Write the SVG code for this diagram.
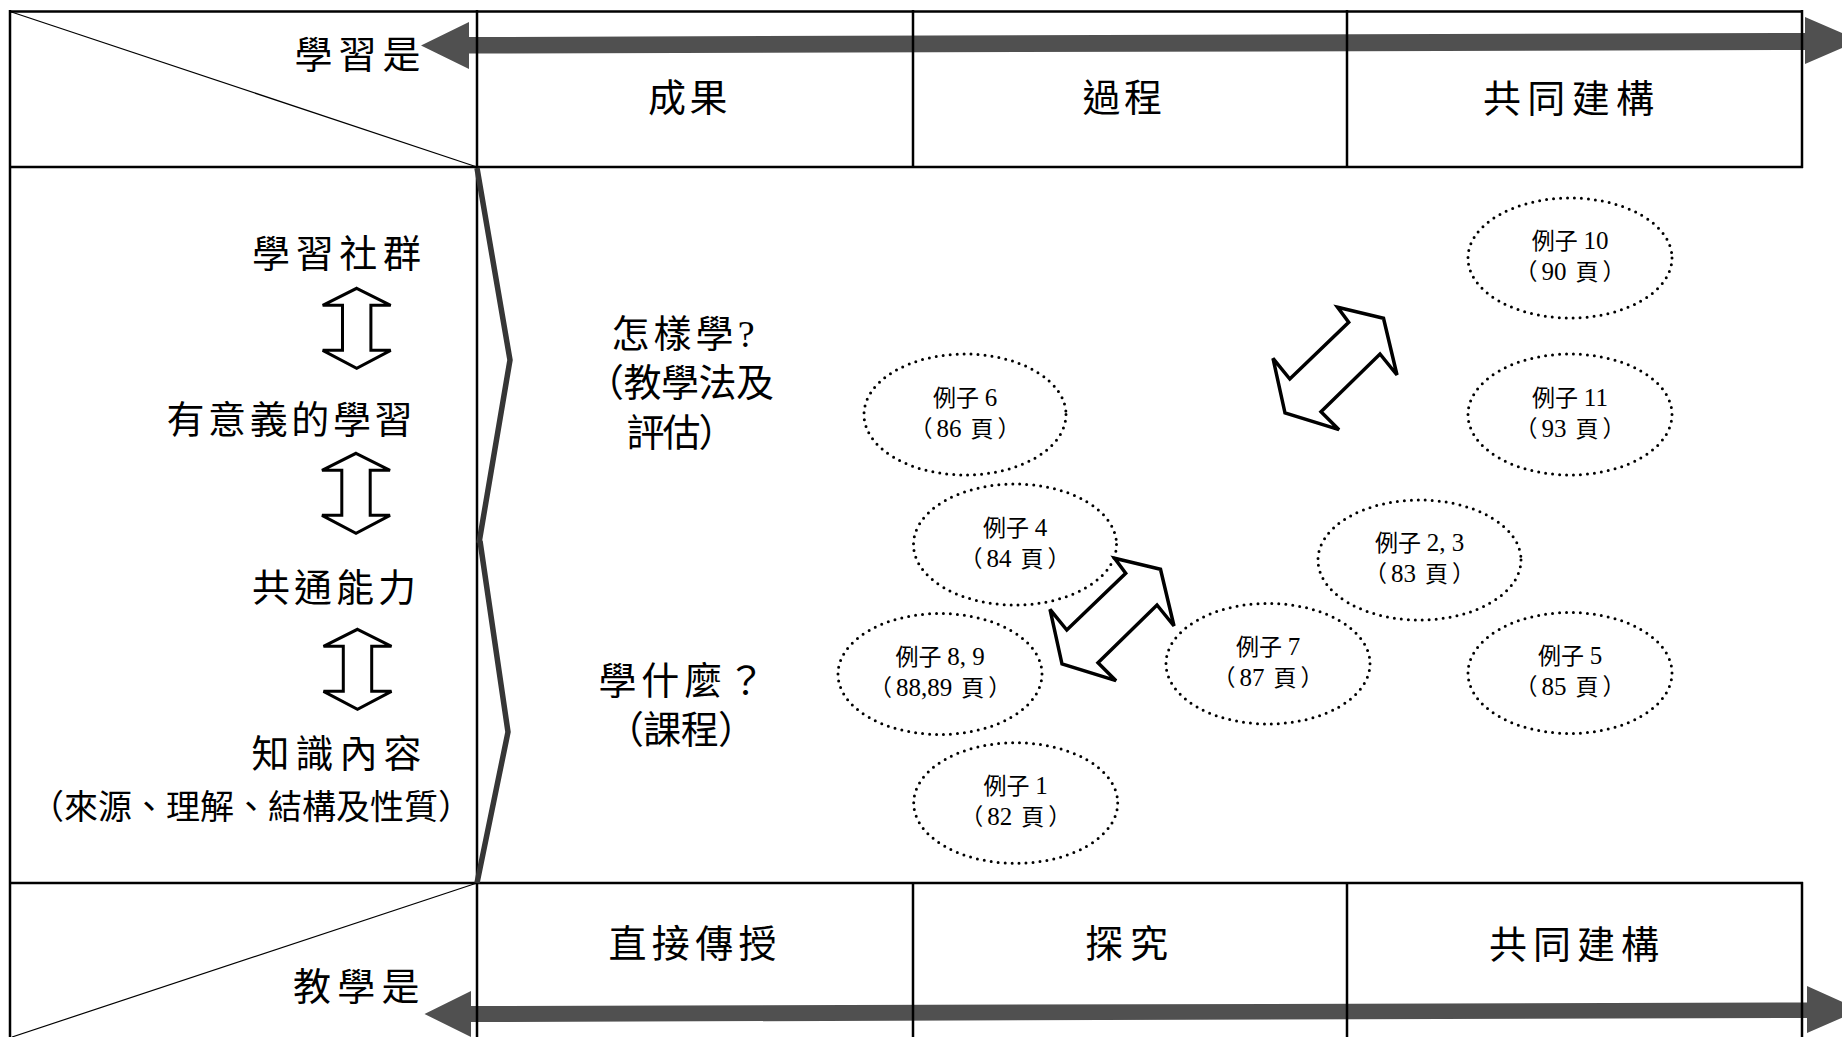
<svg xmlns="http://www.w3.org/2000/svg" xmlns:xlink="http://www.w3.org/1999/xlink" width="1842" height="1037" viewBox="0 0 1842 1037">
<style>
.t { font-family: "Liberation Serif", "Noto Sans CJK TC", serif; fill: #000; }
.big { font-size: 38px; }
.mid { font-size: 34px; }
.sm { font-size: 23px; }
.n { font-size: 25px; }
.grid { stroke: #000; stroke-width: 2.5; fill: none; }
.diag { stroke: #000; stroke-width: 1.2; fill: none; }
.chev { fill: none; stroke: #363636; stroke-width: 5.5; stroke-linejoin: miter; }
.axis { fill: #505050; }
.dbl { fill: #fff; stroke: #000; stroke-width: 3.5; stroke-linejoin: miter; }
.vdbl { fill: #fff; stroke: #000; stroke-width: 3; stroke-linejoin: miter; }
.ell { fill: none; stroke: #000; stroke-width: 3; stroke-dasharray: 0 7; stroke-linecap: round; }
</style>
<defs>
  <path id="vArrow" d="M0,0 L34,17 L14.2,17 L14.2,62 L34,62 L0,80 L-34,62 L-14.2,62 L-14.2,17 L-34,17 Z"/>
  <path id="dArrow" d="M1114.6,558.3 L1160.5,569.3 L1174,626 L1157,605 L1098,662.7 L1116,680.7 L1062,664 L1050,609.3 L1066.8,630 L1125.7,573.3 Z"/>
</defs>
<rect width="1842" height="1037" fill="#fff"/>

<g id="connectors">
  <polygon id="axis-learning" class="axis" points="421,45.5 469,22 469,37 1805,33 1805,17 1859,40.5 1805,64 1805,50 469,53.5 469,69"/>
  <polygon id="axis-teaching" class="axis" points="424.5,1014 471,991 471,1006 1807,1002.5 1807,986 1860,1010 1807,1033 1807,1018 471,1022 471,1037"/>
  <use id="v-arrow-1" xlink:href="#vArrow" href="#vArrow" class="vdbl" transform="translate(356.7,288.3)"/>
  <use id="v-arrow-2" xlink:href="#vArrow" href="#vArrow" class="vdbl" transform="translate(356,453.3)"/>
  <use id="v-arrow-3" xlink:href="#vArrow" href="#vArrow" class="vdbl" transform="translate(357.5,629.3)"/>
  <use id="d-arrow-low" xlink:href="#dArrow" href="#dArrow" class="dbl"/>
  <use id="d-arrow-high" xlink:href="#dArrow" href="#dArrow" class="dbl" transform="translate(223,-251)"/>
</g>

<g id="table">
  <line class="grid" x1="10" y1="11.5" x2="1802" y2="11.5"/>
  <line class="grid" x1="10" y1="10" x2="10" y2="1037"/>
  <line class="grid" x1="1802" y1="10" x2="1802" y2="168"/>
  <line class="grid" x1="1802" y1="882" x2="1802" y2="1037"/>
  <line class="grid" x1="10" y1="167" x2="1803" y2="167"/>
  <line class="grid" x1="10" y1="883" x2="1803" y2="883"/>
  <line class="grid" x1="477" y1="10" x2="477" y2="1037"/>
  <line class="grid" x1="913" y1="10" x2="913" y2="168"/>
  <line class="grid" x1="913" y1="882" x2="913" y2="1037"/>
  <line class="grid" x1="1347" y1="10" x2="1347" y2="168"/>
  <line class="grid" x1="1347" y1="882" x2="1347" y2="1037"/>
  <line class="diag" x1="10" y1="11.5" x2="477" y2="167"/>
  <line class="diag" x1="477" y1="883" x2="12" y2="1037"/>
  <polyline class="chev" points="477,168 510,360 479,543"/>
  <polyline class="chev" points="480,541 508,732 477,883"/>
</g>

<g id="axis-labels">
  <text class="t big" x="294.5" y="68" textLength="126" lengthAdjust="spacing">學習是</text>
  <text class="t big" x="293" y="1000" textLength="126.5" lengthAdjust="spacing">教學是</text>
</g>

<g id="learning-headers">
  <text class="t big" x="648" y="111" textLength="79.5" lengthAdjust="spacing">成果</text>
  <text class="t big" x="1082.5" y="111" textLength="79.5" lengthAdjust="spacing">過程</text>
  <text class="t big" x="1483" y="112" textLength="171" lengthAdjust="spacing">共同建構</text>
</g>

<g id="teaching-headers">
  <text class="t big" x="608.5" y="957" textLength="168" lengthAdjust="spacing">直接傳授</text>
  <text class="t big" x="1085" y="957" textLength="83" lengthAdjust="spacing">探究</text>
  <text class="t big" x="1489" y="958" textLength="170" lengthAdjust="spacing">共同建構</text>
</g>

<g id="levels">
  <text class="t big" x="252" y="267" textLength="169" lengthAdjust="spacing">學習社群</text>
  <text class="t big" x="166.5" y="433" textLength="246" lengthAdjust="spacing">有意義的學習</text>
  <text class="t big" x="252" y="601" textLength="164" lengthAdjust="spacing">共通能力</text>
  <text class="t big" x="251.5" y="767" textLength="170" lengthAdjust="spacing">知識內容</text>
  <text class="t mid" x="30" y="819" textLength="442" lengthAdjust="spacing">（來源、理解、結構及性質）</text>
</g>

<g id="how">
  <text class="t big" x="611.5" y="347" textLength="143" lengthAdjust="spacing">怎樣學?</text>
  <text class="t big" x="586" y="396" textLength="188" lengthAdjust="spacing">（教學法及</text>
  <text class="t big" x="626.5" y="446" textLength="110" lengthAdjust="spacing">評估）</text>
</g>

<g id="what">
  <text class="t big" x="598.5" y="694" textLength="166.5" lengthAdjust="spacing">學什麼？</text>
  <text class="t big" x="606" y="743" textLength="150" lengthAdjust="spacing">（課程）</text>
</g>

<g id="ex10">
  <ellipse class="ell" cx="1570" cy="258" rx="102" ry="60"/>
  <text class="t sm" x="1570" y="249" text-anchor="middle">例子 <tspan class="n">10</tspan></text>
  <text class="t sm" x="1570" y="280" text-anchor="middle">（<tspan class="n" dx="4">90</tspan><tspan dx="9">頁</tspan><tspan dx="4">）</tspan></text>
</g>
<g id="ex11">
  <ellipse class="ell" cx="1570" cy="414.5" rx="102" ry="60.5"/>
  <text class="t sm" x="1570" y="405.5" text-anchor="middle">例子 <tspan class="n">11</tspan></text>
  <text class="t sm" x="1570" y="436.5" text-anchor="middle">（<tspan class="n" dx="4">93</tspan><tspan dx="9">頁</tspan><tspan dx="4">）</tspan></text>
</g>
<g id="ex6">
  <ellipse class="ell" cx="965" cy="414.5" rx="101" ry="60.5"/>
  <text class="t sm" x="965" y="405.5" text-anchor="middle">例子 <tspan class="n">6</tspan></text>
  <text class="t sm" x="965" y="436.5" text-anchor="middle">（<tspan class="n" dx="4">86</tspan><tspan dx="9">頁</tspan><tspan dx="4">）</tspan></text>
</g>
<g id="ex4">
  <ellipse class="ell" cx="1015" cy="544.5" rx="101.5" ry="60.5"/>
  <text class="t sm" x="1015" y="535.5" text-anchor="middle">例子 <tspan class="n">4</tspan></text>
  <text class="t sm" x="1015" y="566.5" text-anchor="middle">（<tspan class="n" dx="4">84</tspan><tspan dx="9">頁</tspan><tspan dx="4">）</tspan></text>
</g>
<g id="ex23">
  <ellipse class="ell" cx="1419.5" cy="560" rx="101.5" ry="60"/>
  <text class="t sm" x="1419.5" y="551" text-anchor="middle">例子 <tspan class="n">2, 3</tspan></text>
  <text class="t sm" x="1419.5" y="582" text-anchor="middle">（<tspan class="n" dx="4">83</tspan><tspan dx="9">頁</tspan><tspan dx="4">）</tspan></text>
</g>
<g id="ex89">
  <ellipse class="ell" cx="940" cy="674" rx="102" ry="60.5"/>
  <text class="t sm" x="940" y="665" text-anchor="middle">例子 <tspan class="n">8, 9</tspan></text>
  <text class="t sm" x="940" y="696" text-anchor="middle">（<tspan class="n" dx="4">88,89</tspan><tspan dx="9">頁</tspan><tspan dx="4">）</tspan></text>
</g>
<g id="ex7">
  <ellipse class="ell" cx="1268" cy="663.7" rx="102" ry="60.3"/>
  <text class="t sm" x="1268" y="654.7" text-anchor="middle">例子 <tspan class="n">7</tspan></text>
  <text class="t sm" x="1268" y="685.7" text-anchor="middle">（<tspan class="n" dx="4">87</tspan><tspan dx="9">頁</tspan><tspan dx="4">）</tspan></text>
</g>
<g id="ex5">
  <ellipse class="ell" cx="1570" cy="673" rx="102" ry="60.5"/>
  <text class="t sm" x="1570" y="664" text-anchor="middle">例子 <tspan class="n">5</tspan></text>
  <text class="t sm" x="1570" y="695" text-anchor="middle">（<tspan class="n" dx="4">85</tspan><tspan dx="9">頁</tspan><tspan dx="4">）</tspan></text>
</g>
<g id="ex1">
  <ellipse class="ell" cx="1015.7" cy="803" rx="102" ry="60.3"/>
  <text class="t sm" x="1015.7" y="794" text-anchor="middle">例子 <tspan class="n">1</tspan></text>
  <text class="t sm" x="1015.7" y="825" text-anchor="middle">（<tspan class="n" dx="4">82</tspan><tspan dx="9">頁</tspan><tspan dx="4">）</tspan></text>
</g>
</svg>
